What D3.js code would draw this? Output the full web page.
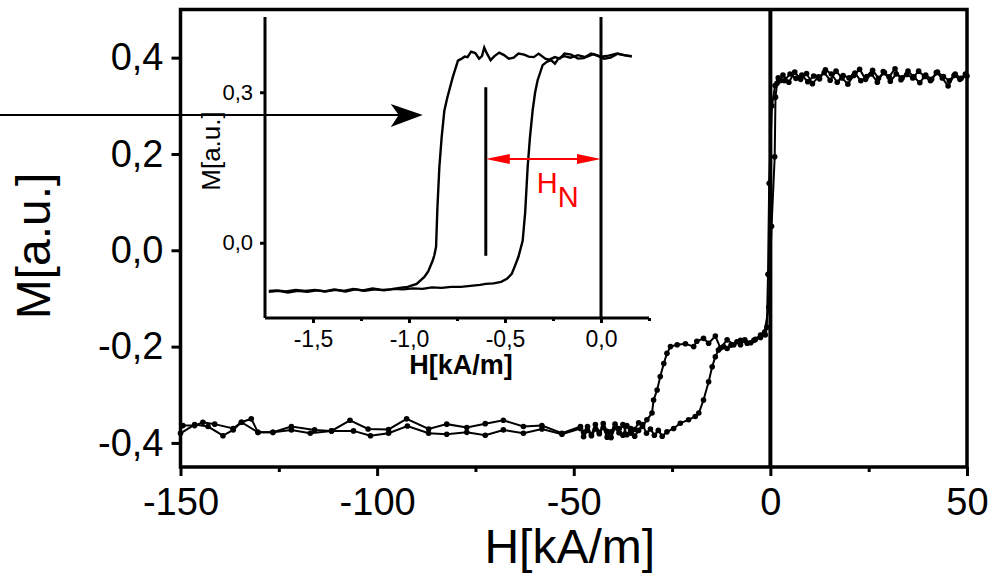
<!DOCTYPE html>
<meta charset="utf-8">
<style>
  body { margin: 0; background: #fff; }
  text { font-family: "Liberation Sans", Arial, sans-serif; fill: #000; }
  .line { fill: none; stroke: #000; stroke-width: 2px; }
  .iline { fill: none; stroke: #000; stroke-width: 2.4px; }
</style>
<svg width="990" height="576"></svg>
<script src="https://d3js.org/d3.v7.min.js"></script>
<script>
// main loop, descending branch (from +50 down to -150)
var descTop = [[50,0.362],[48.5,0.357],[47,0.366],[45.5,0.352],[44,0.361],[42.5,0.370],[41,0.355],[39.5,0.364],
  [38,0.348],[36.5,0.360],[35,0.372],[33.5,0.358],[32,0.366],[30.5,0.351],[29,0.369],[27.5,0.357],[26,0.374],
  [24.5,0.361],[23,0.352],[21.5,0.368],[20,0.358],[18.5,0.363],[17,0.349],[15.5,0.366],[14,0.375],[12.5,0.356],
  [11,0.362],[9.5,0.350],[8,0.364],[6.5,0.357],[5,0.366],[3.5,0.352],[2,0.358],[1.2,0.342],[0.4,0.30],
  [-0.3,0.139],[-0.6,-0.05],[-0.9,-0.16],[-1.3,-0.176]];
var descMid = [[-2.5,-0.176],[-4.2,-0.187],[-5.9,-0.193],[-7.6,-0.187],[-9.3,-0.196],[-11,-0.186],[-12.7,-0.203],
  [-14,-0.178],[-15.7,-0.193],[-17,-0.183],[-18.7,-0.189],[-19.5,-0.200],[-21.6,-0.194],[-23.7,-0.196],[-25.4,-0.200],
  [-26.3,-0.214],[-27.1,-0.235],[-28,-0.262],[-28.8,-0.290],[-29.7,-0.311],[-30.1,-0.338],[-31.4,-0.352],
  [-32.5,-0.366],[-33.5,-0.358],[-34.5,-0.372],[-35.5,-0.380],[-36.5,-0.364],[-37.5,-0.384],[-38.5,-0.370],
  [-39.5,-0.361],[-40.5,-0.377],[-41.5,-0.388],[-42.5,-0.368],[-43.5,-0.378],[-44.5,-0.362],[-45.5,-0.383],
  [-46.5,-0.374],[-47.5,-0.387]];
var descLow = [[-48.3,-0.366],[-53,-0.380],[-58.1,-0.364],[-62.8,-0.366],[-67.9,-0.353],[-72.5,-0.360],
  [-77.2,-0.368],[-82.3,-0.361],[-86.9,-0.371],[-92.5,-0.350],[-97.1,-0.372],[-102.3,-0.371],[-106.9,-0.353],
  [-111.6,-0.375],[-115.9,-0.373],[-121.8,-0.366],[-126.5,-0.378],[-130.3,-0.378],[-132,-0.350],[-134.5,-0.357],
  [-136.6,-0.370],[-141.3,-0.361],[-144.3,-0.357],[-146.4,-0.364],[-149.4,-0.364]];

// main loop, ascending branch (from -150 up to +50)
var ascLow = [[-150,-0.380],[-146.4,-0.362],[-143,-0.366],[-139.2,-0.385],[-136.6,-0.373],[-134.5,-0.357],
  [-130.3,-0.378],[-126.5,-0.378],[-121.8,-0.373],[-117,-0.380],[-111.6,-0.375],[-106,-0.375],[-101.7,-0.385],
  [-97.1,-0.380],[-92.3,-0.365],[-86.9,-0.380],[-82.3,-0.382],[-77.2,-0.378],[-72.5,-0.384],[-67.9,-0.373],
  [-62.8,-0.380],[-58.1,-0.371],[-53,-0.382],[-48.3,-0.370]];
var ascMid = [[-47.5,-0.378],[-46.5,-0.366],[-45.5,-0.385],[-44.5,-0.371],[-43.5,-0.381],[-42.5,-0.360],
  [-41.5,-0.376],[-40.5,-0.389],[-39.5,-0.368],[-38.5,-0.379],[-37.5,-0.362],[-36.5,-0.383],[-35.5,-0.370],
  [-34.5,-0.386],[-33.5,-0.374],[-32.5,-0.362],[-31.5,-0.380],[-30.5,-0.371],[-29.5,-0.384],[-28.5,-0.374],
  [-27.5,-0.386],[-26.3,-0.377],[-24.6,-0.370],[-22.9,-0.359],[-20.8,-0.352],[-19.1,-0.345],[-18.2,-0.338],
  [-17,-0.311],[-15.7,-0.273],[-14.8,-0.242],[-14,-0.221],[-13.2,-0.207],[-11.9,-0.200],[-11,-0.204],
  [-10,-0.197],[-8.5,-0.190],[-7.6,-0.196],[-6.5,-0.186],[-5,-0.192],[-3.8,-0.185],[-2.5,-0.181],[-1.5,-0.170],
  [-0.4,-0.118],[0.3,0.05],[1.1,0.194],[1.3,0.318],[1.7,0.347],[2.5,0.352]];
var ascTop = [[3.2,0.364],[4.7,0.349],[6.2,0.370],[7.7,0.355],[9.2,0.367],[10.7,0.346],[12.2,0.360],[13.7,0.369],
  [15.2,0.353],[16.7,0.372],[18.2,0.358],[19.7,0.345],[21.2,0.363],[22.7,0.376],[24.2,0.355],[25.7,0.366],
  [27.2,0.349],[28.7,0.371],[30.2,0.360],[31.7,0.377],[33.2,0.354],[34.7,0.365],[36.2,0.358],[37.7,0.372],
  [39.2,0.361],[40.7,0.352],[42.2,0.369],[43.7,0.358],[45.2,0.341],[46.7,0.363],[48.2,0.355],[49.6,0.366]];

// inset loop (kA/m)
var insetDesc = [[0.16,0.371],[0.12,0.374],[0.087,0.377],[0.05,0.369],[0.016,0.367],[-0.02,0.373],[-0.052,0.377],
  [-0.09,0.368],[-0.12,0.367],[-0.155,0.375],[-0.19,0.377],[-0.215,0.367],[-0.24,0.370],[-0.27,0.365],
  [-0.29,0.367],[-0.325,0.377],[-0.35,0.370],[-0.377,0.371],[-0.40,0.375],[-0.43,0.377],[-0.455,0.369],
  [-0.48,0.367],[-0.505,0.374],[-0.53,0.379],[-0.555,0.372],[-0.575,0.364],[-0.595,0.378],[-0.608,0.389],
  [-0.62,0.372],[-0.635,0.367],[-0.655,0.378],[-0.677,0.381],[-0.695,0.370],[-0.71,0.371],[-0.73,0.366],
  [-0.745,0.363],[-0.772,0.330],[-0.80,0.29],[-0.816,0.263],[-0.83,0.21],[-0.842,0.150],[-0.852,0.07],
  [-0.859,-0.008],[-0.868,-0.025],[-0.877,-0.036],[-0.90,-0.057],[-0.92,-0.068],[-0.96,-0.082],[-1.007,-0.088],
  [-1.05,-0.090],[-1.094,-0.093],[-1.14,-0.094],[-1.19,-0.091],[-1.24,-0.095],[-1.29,-0.092],[-1.34,-0.096],
  [-1.39,-0.093],[-1.44,-0.097],[-1.49,-0.094],[-1.54,-0.096],[-1.59,-0.094],[-1.64,-0.097],[-1.69,-0.095],
  [-1.73,-0.096]];
var insetAsc = [[-1.73,-0.098],[-1.68,-0.096],[-1.63,-0.099],[-1.58,-0.096],[-1.53,-0.098],[-1.48,-0.095],
  [-1.43,-0.097],[-1.38,-0.094],[-1.33,-0.097],[-1.28,-0.093],[-1.23,-0.096],[-1.18,-0.093],[-1.13,-0.095],
  [-1.08,-0.092],[-1.03,-0.093],[-0.98,-0.091],[-0.93,-0.092],[-0.88,-0.089],[-0.83,-0.090],[-0.78,-0.088],
  [-0.73,-0.088],[-0.68,-0.086],[-0.63,-0.084],[-0.60,-0.082],[-0.56,-0.081],[-0.52,-0.078],[-0.49,-0.072],
  [-0.465,-0.062],[-0.451,-0.049],[-0.43,-0.028],[-0.408,0.004],[-0.395,0.06],[-0.382,0.151],[-0.37,0.21],
  [-0.356,0.264],[-0.343,0.300],[-0.33,0.324],[-0.304,0.354],[-0.28,0.361],[-0.26,0.364],[-0.24,0.357],
  [-0.22,0.368],[-0.19,0.372],[-0.16,0.369],[-0.12,0.374],[-0.08,0.370],[-0.04,0.376],[0,0.371],[0.04,0.373],
  [0.08,0.377],[0.12,0.374],[0.16,0.372]];

var xTicks = [-150, -100, -50, 0, 50];
var xMinor = [-125, -75, -25, 25];
var yTicks = [-0.4, -0.2, 0, 0.2, 0.4];
var ixTicks = [-1.5, -1.0, -0.5, 0.0];
var ixMinor = [-1.25, -0.75, -0.25, 0.25];
var iyTicks = [0.0, 0.3];

// annotations (data coords)
var hnMarker = {h: -0.6, top: 0.31, bottom: -0.026};
var hnArrow = {from: -0.6, to: 0, m: 0.167};
var bigArrow = {from: -200, to: -88.4, m: 0.281};

var svg = d3.select("svg");
var loc = d3.formatLocale({decimal: ",", thousands: ".", grouping: [3], currency: ["", ""], minus: "-"});

var x = d3.scaleLinear().domain([-150, 50]).range([180.5, 967]);
var y = d3.scaleLinear().domain([-0.45, 0.5]).range([467, 9.5]);

var xi = d3.scaleLinear().domain([-1.75, 0.25]).range([265, 649]);
var yi = d3.scaleLinear().domain([-0.15, 0.45]).range([318, 17]);

function styleAxis(g, size) {
  g.select(".domain").remove();
  g.selectAll(".tick line").attr("stroke", "#000").attr("stroke-width", 3);
  g.selectAll(".tick text").attr("font-size", size)
    .attr("font-family", '"Liberation Sans", Arial, sans-serif').attr("fill", "#000");
}

// main axes
svg.append("g").attr("transform", "translate(0,467)")
  .call(d3.axisBottom(x).tickValues(xTicks).tickSize(9).tickPadding(12).tickFormat(loc.format("d")))
  .call(styleAxis, 38);
svg.append("g").attr("transform", "translate(0,467)")
  .call(d3.axisBottom(x).tickValues(xMinor).tickSize(5).tickFormat(""))
  .call(styleAxis, 38);
svg.append("g").attr("transform", "translate(180.5,0)")
  .call(d3.axisLeft(y).tickValues(yTicks).tickSize(9).tickPadding(8).tickFormat(loc.format(".1f")))
  .call(styleAxis, 38);

svg.append("rect")
  .attr("x", x.range()[0]).attr("y", y.range()[1])
  .attr("width", x.range()[1] - x.range()[0]).attr("height", y.range()[0] - y.range()[1])
  .attr("fill", "none").attr("stroke", "#000").attr("stroke-width", 3.5);

svg.append("text").attr("x", (x.range()[0] + x.range()[1]) / 2 - 4).attr("y", 563)
  .attr("text-anchor", "middle").attr("font-size", 48).text("H[kA/m]");
svg.append("text").attr("transform", "translate(50," + 246 + ") rotate(-90)")
  .attr("text-anchor", "middle").attr("font-size", 48).text("M[a.u.]");

// main data
var line = d3.line().x(function(d) { return x(d[0]); }).y(function(d) { return y(d[1]); });
var desc = descTop.concat(descMid, descLow);
var asc = ascLow.concat(ascMid, ascTop);
[desc, asc].forEach(function(s) {
  svg.append("path").datum(s).attr("class", "line").attr("d", line);
  svg.append("g").selectAll("circle").data(s).enter().append("circle")
    .attr("cx", function(d) { return x(d[0]); })
    .attr("cy", function(d) { return y(d[1]); })
    .attr("r", 2.8).attr("fill", "#000");
});

// zero line
svg.append("line").attr("x1", x(0)).attr("x2", x(0)).attr("y1", y.range()[1]).attr("y2", y.range()[0])
  .attr("stroke", "#000").attr("stroke-width", 4);

// inset
var ig = svg.append("g");
ig.append("g").attr("transform", "translate(0,318)")
  .call(d3.axisBottom(xi).tickValues(ixTicks).tickSize(5).tickPadding(8).tickFormat(loc.format(".1f")))
  .call(styleAxis, 23);
ig.append("g").attr("transform", "translate(0,318)")
  .call(d3.axisBottom(xi).tickValues(ixMinor).tickSize(3).tickFormat(""))
  .call(styleAxis, 23);
ig.append("g").attr("transform", "translate(265,0)")
  .call(d3.axisLeft(yi).tickValues(iyTicks).tickSize(5).tickPadding(7).tickFormat(loc.format(".1f")))
  .call(styleAxis, 22);
ig.append("line").attr("x1", xi.range()[0]).attr("x2", xi.range()[1]).attr("y1", 318).attr("y2", 318)
  .attr("stroke", "#000").attr("stroke-width", 3);
ig.append("line").attr("x1", xi.range()[0]).attr("x2", xi.range()[0]).attr("y1", yi.range()[1]).attr("y2", 318)
  .attr("stroke", "#000").attr("stroke-width", 3);
ig.append("line").attr("x1", xi(0)).attr("x2", xi(0)).attr("y1", yi.range()[1]).attr("y2", 318)
  .attr("stroke", "#000").attr("stroke-width", 3);

var iline = d3.line().x(function(d) { return xi(d[0]); }).y(function(d) { return yi(d[1]); });
ig.append("path").datum(insetDesc).attr("class", "iline").attr("d", iline);
ig.append("path").datum(insetAsc).attr("class", "iline").attr("d", iline);

ig.append("text").attr("x", (xi.range()[0] + xi.range()[1]) / 2 + 4).attr("y", 374)
  .attr("text-anchor", "middle").attr("font-size", 27).attr("font-weight", "bold").text("H[kA/m]");
ig.append("text").attr("transform", "translate(220,151) rotate(-90)")
  .attr("text-anchor", "middle").attr("font-size", 26).text("M[a.u.]");

// H_N marker and red arrow
ig.append("line").attr("x1", xi(hnMarker.h)).attr("x2", xi(hnMarker.h))
  .attr("y1", yi(hnMarker.top)).attr("y2", yi(hnMarker.bottom))
  .attr("stroke", "#000").attr("stroke-width", 3);
var ax0 = xi(hnArrow.from), ax1 = xi(hnArrow.to), ay = yi(hnArrow.m);
ig.append("line").attr("x1", ax0 + 10).attr("x2", ax1 - 10).attr("y1", ay).attr("y2", ay)
  .attr("stroke", "#f00").attr("stroke-width", 2);
ig.append("path").attr("fill", "#f00")
  .attr("d", "M" + ax0 + "," + ay + "l24,-5l0,10z");
ig.append("path").attr("fill", "#f00")
  .attr("d", "M" + ax1 + "," + ay + "l-24,-5l0,10z");
var hn = ig.append("text").attr("x", xi(-0.335)).attr("y", yi(0.10)).attr("font-size", 29)
  .style("fill", "#f00");
hn.append("tspan").text("H");
hn.append("tspan").attr("dy", 14).text("N");

// big arrow pointing to inset
var bx0 = x(bigArrow.from), bx1 = x(bigArrow.to), by = y(bigArrow.m);
svg.append("line").attr("x1", bx0).attr("x2", bx1 - 20).attr("y1", by).attr("y2", by)
  .attr("stroke", "#000").attr("stroke-width", 2);
svg.append("path").attr("fill", "#000")
  .attr("d", "M" + bx1 + "," + by + "l-32,-11l8,11l-8,12z");
</script>
